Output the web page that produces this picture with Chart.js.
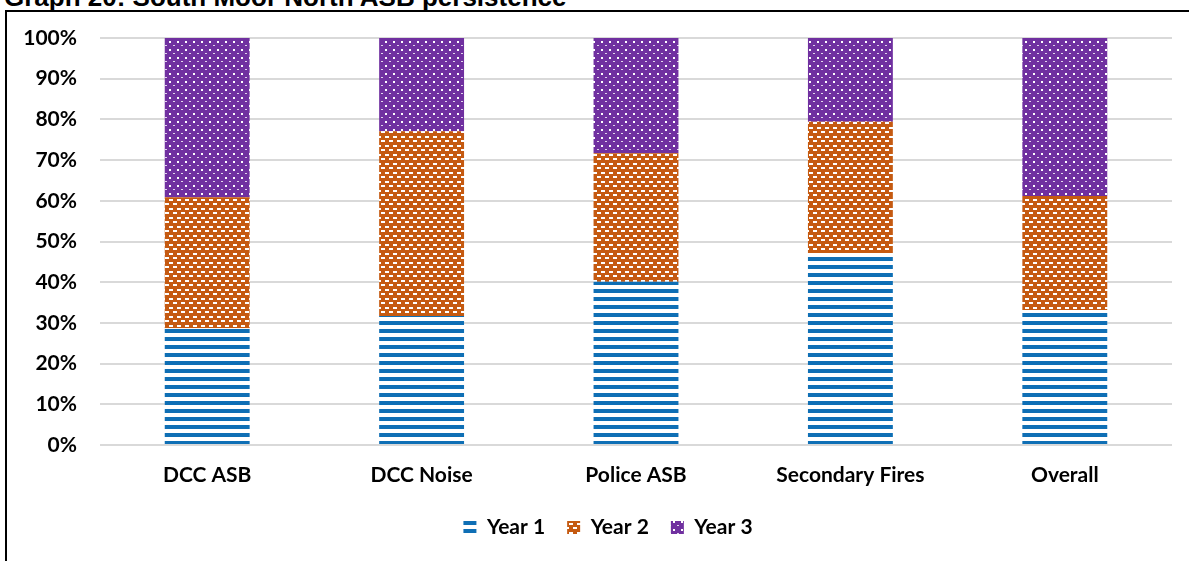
<!DOCTYPE html>
<html>
<head>
<meta charset="utf-8">
<script src="https://cdn.jsdelivr.net/npm/chart.js@4.4.0/dist/chart.umd.min.js"></script>
<style>
  html, body { margin: 0; padding: 0; background: #fff; overflow: hidden; }
  #frame { position: absolute; left: 5px; top: 10px; width: 2000px; height: 2000px; border: 2px solid #000; }
  #title { position: absolute; left: 4px; top: -18px; font: bold 26px "Liberation Sans", Arial, sans-serif; color: #000; white-space: nowrap; }
  #wrap { position: absolute; left: 0; top: 0; width: 1189px; height: 561px; }
</style>
</head>
<body>
<div id="frame"></div>
<div id="title">Graph 20: South Moor North ASB persistence</div>
<div id="wrap"><canvas id="myChart"></canvas></div>
<script>
const categories = ['DCC ASB', 'DCC Noise', 'Police ASB', 'Secondary Fires', 'Overall'];
const year1 = [28.7, 31.7, 40.1, 47.2, 33.2];
const year2 = [32.2, 45.4, 31.6, 32.2, 28.0];
const year3 = [39.1, 22.9, 28.3, 20.6, 38.8];
const seriesNames = ['Year 1', 'Year 2', 'Year 3'];

// pattern fills to look like the Excel ones
function stripes(color) {
  const c = document.createElement('canvas');
  c.width = 8; c.height = 8;
  const g = c.getContext('2d');
  g.fillStyle = '#fff';
  g.fillRect(0, 0, 8, 8);
  g.fillStyle = color;
  g.fillRect(0, 1, 8, 4);
  return g.createPattern(c, 'repeat');
}

function bricks(color) {
  const c = document.createElement('canvas');
  c.width = 8; c.height = 9;
  const g = c.getContext('2d');
  g.fillStyle = color;
  g.fillRect(0, 0, 8, 9);
  g.fillStyle = '#fff';
  g.fillRect(1, 1, 4, 2);
  g.fillRect(5, 5, 4, 2);
  g.fillRect(0, 5, 1, 2);
  return g.createPattern(c, 'repeat');
}

function dots(color) {
  const c = document.createElement('canvas');
  c.width = 8; c.height = 8;
  const g = c.getContext('2d');
  g.fillStyle = color;
  g.fillRect(0, 0, 8, 8);
  g.fillStyle = '#fff';
  g.fillRect(1, 1, 2, 2);
  g.fillStyle = 'rgba(255,255,255,0.8)';
  g.fillRect(5, 5, 2, 1);
  return g.createPattern(c, 'repeat');
}

const fills = [stripes('#0f6fb5'), bricks('#c55a11'), dots('#7030a0')];
const values = [year1, year2, year3];

const ctx = document.getElementById('myChart').getContext('2d');
const labelFont = { family: 'Lato', weight: 'bold', size: 21 };

const myChart = new Chart(ctx, {
  type: 'bar',
  data: {
    labels: categories,
    datasets: seriesNames.map((name, i) => ({
      label: name,
      data: values[i],
      backgroundColor: fills[i],
      borderWidth: 0,
      barPercentage: 1,
      categoryPercentage: 0.396
    }))
  },
  options: {
    responsive: true,
    maintainAspectRatio: false,
    animation: false,
    // negative right padding + empty right axis: moves legend centre right like the original
    layout: { padding: { left: 0, right: -27, top: 38, bottom: 13 } },
    plugins: {
      title: { display: false },
      tooltip: { enabled: false },
      legend: {
        position: 'bottom',
        labels: {
          font: labelFont,
          color: '#000',
          boxWidth: 13,
          boxHeight: 13,
          padding: 22
        }
      }
    },
    scales: {
      x: {
        stacked: true,
        grid: { display: false },
        border: { display: false },
        ticks: { font: labelFont, color: '#000', padding: 10 },
        afterFit(scale) {
          const legendH = scale.chart.legend ? scale.chart.legend.height : 0;
          scale.height = 561 - 13 - legendH - 445;
        }
      },
      y: {
        stacked: true,
        min: 0,
        max: 100,
        grid: { color: '#d9d9d9', lineWidth: 2, drawTicks: false },
        border: { display: false },
        ticks: {
          stepSize: 10,
          font: labelFont,
          color: '#000',
          padding: 23,
          callback: v => v + '%'
        },
        afterFit(scale) { scale.width = 100; }
      },
      spacer: {
        type: 'linear',
        position: 'right',
        grid: { display: false },
        border: { display: false },
        ticks: { display: false },
        afterFit(scale) { scale.width = 44; }
      }
    }
  }
});
</script>
</body>
</html>
